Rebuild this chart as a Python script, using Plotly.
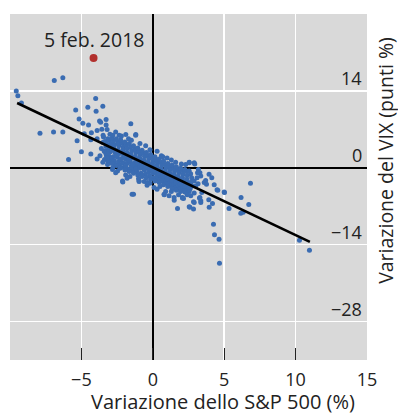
import plotly.graph_objects as go

# ---------------- data ----------------
x_range = [-10, 15.0001]
y_range = [-35, 28]
x_ticks = [-10, -5, 0, 5, 10, 15]
x_tick_labels = ["", "\u22125", "0", "5", "10", "15"]
y_ticks = [-28, -14, 0, 14]
y_tick_labels = ["\u221228", "\u221214", "0", "14"]

x_title = "Variazione dello S&P 500 (%)"
y_title = "Variazione del VIX (punti %)"

# daily changes: (S&P 500 %, VIX points) - dense core of the cloud
core_points = [
    (-3.35, 4.8), (-3.28, 3.9), (-3.32, 3.1), (-3.25, 2.2), (-3.38, 1.5), (-3.22, 4.3), (-3.3, 2.7),
    (-3.05, 5.0), (-2.95, 4.4), (-3.02, 3.6), (-2.98, 2.9), (-3.08, 2.1), (-2.93, 1.4), (-3.0, 1.0), (-3.1, 3.3),
    (-2.75, 4.9), (-2.68, 4.2), (-2.72, 3.5), (-2.64, 2.8), (-2.78, 2.0), (-2.7, 1.3), (-2.66, 0.7), (-2.8, 3.9),
    (-2.45, 4.7), (-2.38, 4.0), (-2.42, 3.3), (-2.35, 2.6), (-2.48, 1.9), (-2.4, 1.1), (-2.33, 0.5), (-2.5, 3.0), (-2.36, 4.4),
    (-2.15, 4.5), (-2.08, 3.8), (-2.12, 3.0), (-2.05, 2.4), (-2.18, 1.7), (-2.1, 0.9), (-2.03, 0.1), (-2.2, 2.7), (-2.06, 3.4),
    (-1.85, 4.1), (-1.78, 3.5), (-1.82, 2.8), (-1.75, 2.1), (-1.88, 1.5), (-1.8, 0.8), (-1.73, -0.2), (-1.9, 0.3), (-1.77, 2.5),
    (-1.55, 3.8), (-1.48, 3.1), (-1.52, 2.5), (-1.45, 1.8), (-1.58, 1.1), (-1.5, 0.4), (-1.43, -0.5), (-1.6, 2.2), (-1.47, 0.0),
    (-1.25, 3.4), (-1.18, 2.8), (-1.22, 2.1), (-1.15, 1.5), (-1.28, 0.9), (-1.2, 0.2), (-1.13, -0.7), (-1.3, 1.8), (-1.17, -0.2),
    (-0.95, 3.0), (-0.88, 2.4), (-0.92, 1.8), (-0.85, 1.2), (-0.98, 0.6), (-0.9, -0.1), (-0.83, -1.0), (-1.0, 1.5), (-0.87, 0.3),
    (-0.65, 2.7), (-0.58, 2.1), (-0.62, 1.4), (-0.55, 0.9), (-0.68, 0.3), (-0.6, -0.4), (-0.53, -1.2), (-0.7, 1.1), (-0.57, -0.1),
    (-0.35, 2.2), (-0.28, 1.7), (-0.32, 1.1), (-0.25, 0.5), (-0.38, -0.1), (-0.3, -0.8), (-0.23, -1.5), (-0.4, 0.8), (-0.27, 0.1),
    (-0.05, 1.9), (0.02, 1.3), (-0.02, 0.8), (0.05, 0.2), (-0.08, -0.4), (0.0, -1.0), (0.07, -1.8), (-0.1, 0.5), (0.03, -0.2),
    (0.25, 1.5), (0.32, 1.0), (0.28, 0.4), (0.35, -0.2), (0.22, -0.8), (0.3, -1.4), (0.37, -2.0), (0.2, 0.1), (0.33, -0.5),
    (0.55, 1.0), (0.62, 0.5), (0.58, -0.1), (0.65, -0.7), (0.52, -1.3), (0.6, -1.9), (0.67, -2.4), (0.5, -0.4), (0.63, -1.0),
    (0.85, 0.6), (0.92, 0.0), (0.88, -0.6), (0.95, -1.2), (0.82, -1.8), (0.9, -2.4), (0.97, -2.8), (0.8, -0.9), (0.93, -1.5),
    (1.15, 0.3), (1.22, -0.3), (1.18, -0.9), (1.25, -1.5), (1.12, -2.1), (1.2, -2.7), (1.27, -3.2), (1.1, -1.2), (1.23, -1.8),
    (1.45, 0.0), (1.52, -0.6), (1.48, -1.2), (1.55, -1.9), (1.42, -2.5), (1.5, -3.1), (1.57, -3.6), (1.4, -1.5), (1.53, -2.2),
    (1.75, -0.3), (1.82, -0.9), (1.78, -1.5), (1.85, -2.2), (1.72, -2.8), (1.8, -3.4), (1.87, -3.9), (1.7, -1.8), (1.83, -2.5),
    (2.05, -0.5), (2.12, -1.2), (2.08, -1.8), (2.15, -2.5), (2.02, -3.1), (2.1, -3.7), (2.17, -4.1), (2.0, -2.1),
    (2.35, -0.7), (2.42, -1.4), (2.38, -2.1), (2.45, -2.8), (2.32, -3.4), (2.4, -3.9), (2.47, -4.1),
    (2.65, -1.1), (2.72, -1.8), (2.68, -2.6), (2.75, -3.3), (2.62, -3.8),
    # extra days filling the cloud
    (-3.15, 5.3), (-2.85, 5.4), (-2.55, 5.3), (-2.25, 5.1), (-1.95, 4.7), (-1.65, 4.4), (-1.35, 4.0),
    (-1.05, 3.6), (-0.75, 3.2), (-0.45, 2.8), (-0.15, 2.4), (0.15, 2.0), (0.45, 1.6), (0.75, 1.2),
    (1.05, 0.8), (1.35, 0.5), (1.65, 0.2), (1.95, -0.1), (2.25, -0.3), (2.55, -0.6),
    (-3.15, 1.2), (-2.85, 0.8), (-2.55, 0.4), (-2.25, 0.0), (-1.95, -0.4), (-1.65, -0.7), (-1.35, -1.0),
    (-1.05, -1.3), (-0.75, -1.6), (-0.45, -1.8), (-0.15, -2.1), (0.15, -2.4), (0.45, -2.7), (0.75, -3.1),
    (1.05, -3.4), (1.35, -3.8), (1.65, -4.1), (1.95, -4.3), (2.25, -4.4), (2.55, -4.3),
    (-3.12, 2.5), (-2.88, 3.2), (-2.58, 2.2), (-2.28, 1.5), (-1.98, 2.0), (-1.68, 1.4), (-1.38, 0.6),
    (-1.08, 0.9), (-0.78, 0.5), (-0.48, 0.2), (-0.18, -0.3), (0.12, -0.6), (0.42, -1.0), (0.72, -1.5),
    (1.02, -2.0), (1.32, -2.3), (1.62, -2.7), (1.92, -3.0), (2.22, -3.3), (2.52, -3.5),
]

# scattered days around the core
fringe_points = [
    (-3.2, 6.95), (-2.36, 5.9), (-1.89, 6.05), (-1.19, 6.05), (-3.5, 4.6), (-3.6, 3.5), (-3.7, 2.2),
    (-3.17, 0.6), (-2.82, -0.3), (-2.47, -0.6), (-2.12, -2.4), (-1.45, -4.8), (-0.96, -2.4), (0.09, -3.6),
    (0.79, -4.8), (1.14, -5.1), (1.49, -5.4), (2.07, -5.4), (2.66, -5.1), (3.3, -5.4), (2.9, 0.9),
    (2.55, 1.0), (3.19, -0.3), (3.36, -1.5), (-0.5, 4.0), (0.3, 3.0), (-0.2, -2.8), (0.5, -3.4),
    (1.0, 1.8), (1.6, 1.0), (-1.5, 5.0), (-2.6, 6.5), (-1.0, -2.0), (-1.9, -1.3), (-0.6, -2.5),
    (0.6, 2.2), (1.3, -4.3), (2.3, 0.6),
    (-3.45, 5.6), (-3.0, 6.1), (-2.2, 5.8), (-1.7, 5.3), (-0.9, 4.4), (-0.2, 3.3), (0.7, 2.0),
    (1.3, 1.4), (2.0, 0.7), (-3.5, 1.0), (-2.6, -0.9), (-1.6, -1.6), (-0.4, -3.2), (0.3, -3.9),
    (0.9, -4.3), (1.8, -4.9), (2.4, -4.9), (2.9, -4.6), (3.1, -1.8), (2.9, -2.4),
]

# large moves
outlier_points = [
    (-9.56, 14.0), (-9.45, 13.1), (-9.2, 11.8), (-6.9, 15.9), (-6.3, 16.4), (-7.9, 6.3), (-6.95, 6.5),
    (-6.3, 6.5), (-5.9, 1.5), (-5.4, 10.5), (-4.0, 12.6), (-4.55, 11.0), (-3.5, 11.2), (-3.97, 10.3),
    (-5.16, 8.9), (-4.9, 8.1), (-4.5, 7.8), (-3.73, 8.5), (-3.65, 8.3), (-3.27, 8.8), (-3.27, 7.8),
    (-5.3, 4.9), (-5.0, 2.9), (-4.34, 2.5), (-3.9, 1.6), (-4.8, 6.2), (-4.3, 6.4), (-3.9, 6.8),
    (-3.57, 7.0), (-3.48, 5.9), (-4.34, 5.1), (-3.9, 5.3), (-1.54, 8.0), (-1.2, 5.9), (-3.4, 3.0),
    (-3.17, 1.8), (-2.8, 5.9), (-2.1, -2.6), (-1.8, -1.9), (-0.96, -2.5), (-0.37, -2.7), (-2.3, -0.1),
    (-2.8, 0.0), (-1.35, -4.8), (-0.2, -6.3), (2.55, 0.9), (2.94, 0.7), (1.73, -7.4), (2.55, -7.1),
    (2.85, -7.5), (2.85, -6.2), (3.95, -7.2), (3.36, -6.0), (3.3, -0.9), (3.6, -2.7), (3.94, -1.2),
    (4.13, -1.8), (4.3, -3.1), (4.5, -4.0), (5.0, -4.4), (5.34, -7.4), (0.8, -4.9), (1.5, -5.9),
    (2.08, -5.5), (6.84, -2.8), (6.18, -5.4), (6.72, -6.7), (6.16, -8.3), (6.33, -8.1), (4.25, -10.3),
    (4.32, -12.2), (4.64, -13.0), (4.67, -17.4), (10.27, -13.2), (10.97, -15.0), (3.43, -4.5),
    (3.27, -5.5), (3.36, -6.3), (3.92, -5.8), (4.18, -6.5), (2.9, -6.3), (2.6, -7.2), (2.15, -5.6),
    (3.7, -2.3), (3.76, -3.0), (3.13, -0.9), (3.17, -2.9), (3.0, -3.3), (4.55, -4.1), (5.02, -4.5),
]

# regression line end points
fit_x = [-9.5, 11.0]
fit_y = [11.8, -13.5]

# 5 February 2018
event_x = [-4.15]
event_y = [20.0]
event_label = "5 feb. 2018"

# ---------------- figure ----------------
FONT = "Open Sans, Noto Sans, DejaVu Sans, sans-serif"
BLUE = "#3a6cb2"
RED = "#b2302d"
TXT = "#222222"

all_points = core_points + fringe_points + outlier_points
sx = [p[0] for p in all_points]
sy = [p[1] for p in all_points]

fig = go.Figure()
fig.add_trace(go.Scatter(x=sx, y=sy, mode="markers",
                         marker=dict(size=5, color=BLUE, line=dict(width=0)),
                         hoverinfo="skip", showlegend=False))
fig.add_trace(go.Scatter(x=fit_x, y=fit_y, mode="lines",
                         line=dict(color="black", width=2.6),
                         hoverinfo="skip", showlegend=False))
fig.add_trace(go.Scatter(x=event_x, y=event_y, mode="markers",
                         marker=dict(size=8, color=RED, line=dict(width=0)),
                         hoverinfo="skip", showlegend=False))

fig.add_annotation(x=event_x[0], y=event_y[0] + 3.4, xref="x", yref="y",
                   text=event_label, showarrow=False,
                   font=dict(family=FONT, size=19.5, color=TXT),
                   xanchor="center", yanchor="middle")

# y tick labels, placed inside the plot just above their grid lines
for val, lab in zip(y_ticks, y_tick_labels):
    fig.add_annotation(x=1, y=val, xref="paper", yref="y", text=lab,
                       showarrow=False, xanchor="right", yanchor="bottom",
                       xshift=-3, yshift=-1,
                       font=dict(family=FONT, size=18, color=TXT))

fig.add_annotation(x=0.598, y=-0.1185, xref="paper", yref="paper",
                   text=x_title, showarrow=False,
                   font=dict(family=FONT, size=20, color=TXT),
                   xanchor="center", yanchor="middle")
fig.add_annotation(x=1.05, y=0.578, xref="paper", yref="paper",
                   text=y_title, showarrow=False, textangle=-90,
                   font=dict(family=FONT, size=19.5, color=TXT),
                   xanchor="center", yanchor="middle")

fig.update_layout(
    width=398, height=415,
    margin=dict(l=10, r=31, t=14, b=55, autoexpand=False),
    paper_bgcolor="white",
    plot_bgcolor="#d9d9d9",
    font=dict(family=FONT, size=18, color=TXT),
    showlegend=False,
)
fig.update_xaxes(
    range=x_range, tickmode="array", tickvals=x_ticks, ticktext=x_tick_labels,
    showgrid=True, gridcolor="white", gridwidth=1.5,
    zeroline=True, zerolinecolor="black", zerolinewidth=1.5,
    ticks="inside", ticklen=12, tickwidth=1.2, tickcolor="#222222",
    showline=False, ticklabelstandoff=7, automargin=False,
    ticklabeloverflow="allow",
    tickfont=dict(family=FONT, size=18, color=TXT),
)
fig.update_yaxes(
    range=y_range, tickmode="array", tickvals=y_ticks,
    side="right", showticklabels=False,
    showgrid=True, gridcolor="white", gridwidth=1.5,
    zeroline=True, zerolinecolor="black", zerolinewidth=1.5,
    ticks="", showline=False, automargin=False,
)

fig.write_html("out.html",
               config={"displayModeBar": False, "staticPlot": True},
               post_script="document.body.style.margin='0px';document.body.style.overflow='hidden';")
